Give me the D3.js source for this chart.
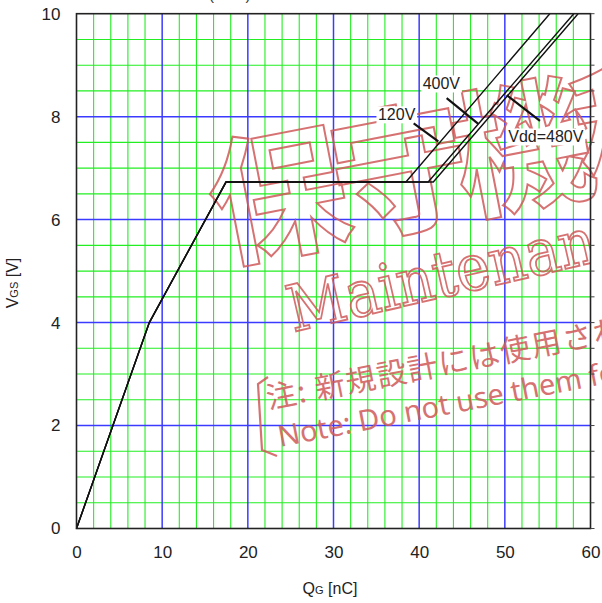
<!DOCTYPE html>
<html>
<head>
<meta charset="utf-8">
<script src="https://cdn.jsdelivr.net/npm/d3@7"></script>
<style>
  html, body { margin: 0; padding: 0; background: #fff; }
  svg { display: block; }
</style>
</head>
<body>
<svg id="chart" width="602" height="603"></svg>
<script>
// ---------------- data ----------------
const xTickValues = [0, 10, 20, 30, 40, 50, 60];
const yTickValues = [0, 2, 4, 6, 8, 10];
const xMinorStep = 2;      // nC
const yMinorStep = 0.5;    // V

// Gate charge curves: [QG (nC), VGS (V)]
const curve120V = [[0, 0], [8.5, 4.0], [17.45, 6.73], [38.45, 6.73], [55.25, 10]];
const curve400V = [[0, 0], [8.5, 4.0], [17.45, 6.73], [41.05, 6.73], [58.05, 10]];
const curve480V = [[0, 0], [8.5, 4.0], [17.45, 6.73], [41.65, 6.73], [58.55, 10]];

// Annotations (data coordinates)
const annLabels = ["120V", "400V", "Vdd=480V"];
const annLabelQ = [35.19, 40.41, 50.40];
const annLabelV = [8.05, 8.65, 7.62];
const annLeaderFrom = [[39.36, 7.87], [43.21, 8.36], [50.22, 8.42]];
const annLeaderTo = [[42.23, 7.52], [46.90, 7.86], [54.10, 7.92]];

const titleText = "(TYP.)";
const stampChars = ["保", "守", "機", "種"];

// ---------------- layout ----------------
const svg = d3.select("#chart");
const pLeft = 76.5, pRight = 590.5, pTop = 13.7, pBottom = 528.5;
const x = d3.scaleLinear().domain([0, 60]).range([pLeft, pRight]);
const y = d3.scaleLinear().domain([0, 10]).range([pBottom, pTop]);

const FONT = "'Liberation Sans', Arial, Helvetica, sans-serif";
const GREEN = "#22ee22", BLUE = "#3b3bff";

// clipped title residue (only the descenders show in the reference)
svg.append("text").attr("x", 209).attr("y", 0)
  .attr("font-family", FONT).attr("font-size", 15).attr("fill", "#333")
  .text(titleText);

// ---------------- grid ----------------
const xMinor = d3.range(0, 60 + 1e-9, xMinorStep).filter(v => v % 10 !== 0);
const yMinor = d3.range(0, 10 + 1e-9, yMinorStep).filter(v => Math.abs(v % 2) > 1e-9);
const g = svg.append("g");
g.selectAll(".vmin").data(xMinor).join("line")
  .attr("x1", d => x(d)).attr("x2", d => x(d)).attr("y1", pTop).attr("y2", pBottom)
  .attr("stroke", GREEN).attr("stroke-width", 1.1);
g.selectAll(".hmin").data(yMinor).join("line")
  .attr("y1", d => y(d)).attr("y2", d => y(d)).attr("x1", pLeft).attr("x2", pRight)
  .attr("stroke", GREEN).attr("stroke-width", 1.1);
g.selectAll(".vmaj").data(xTickValues.filter(v => v > 0 && v < 60)).join("line")
  .attr("x1", d => x(d)).attr("x2", d => x(d)).attr("y1", pTop).attr("y2", pBottom)
  .attr("stroke", BLUE).attr("stroke-width", 1.5);
g.selectAll(".hmaj").data(yTickValues.filter(v => v > 0 && v < 10)).join("line")
  .attr("y1", d => y(d)).attr("y2", d => y(d)).attr("x1", pLeft).attr("x2", pRight)
  .attr("stroke", BLUE).attr("stroke-width", 1.5);

// ---------------- watermark ----------------
const WM = "#d05a5a";
const wm = svg.append("g").attr("opacity", 0.85);
const stamp = wm.append("text")
  .attr("transform", "translate(220,259) rotate(-11)")
  .attr("font-family", "'Noto Sans CJK JP'").attr("font-weight", 700)
  .attr("font-size", 139)
  .attr("fill", "none").attr("stroke", WM).attr("stroke-width", 2);
stamp.selectAll("tspan").data(stampChars).join("tspan")
  .attr("x", (d, i) => i * 124).attr("y", 0).text(d => d);
svg.append("clipPath").attr("id", "plotclip")
  .append("rect").attr("x", 0).attr("y", 0).attr("width", pRight).attr("height", 603);
wm.append("g").attr("clip-path", "url(#plotclip)")
  .append("text")
  .attr("transform", "translate(293,332) rotate(-13) scale(0.9,1)")
  .attr("font-family", "'DejaVu Serif', serif")
  .attr("font-size", 64)
  .attr("fill", "none").attr("stroke", WM).attr("stroke-width", 1.9)
  .text("Maintenance");
wm.append("text")
  .attr("transform", "translate(268.5,409) rotate(-11.1)")
  .attr("font-family", "'Noto Sans CJK JP'").attr("font-size", 30).attr("letter-spacing", 1.5)
  .attr("fill", WM)
  .text("注: 新規設計には使用されないでください");
wm.append("text")
  .attr("transform", "translate(280,447) rotate(-11)")
  .attr("font-family", "'Noto Sans', sans-serif").attr("font-size", 29)
  .attr("fill", WM)
  .text("Note: Do not use them for new design");
wm.append("path")
  .attr("d", "M268,377 L258,384 L262,450 L277,456")
  .attr("fill", "none").attr("stroke", WM).attr("stroke-width", 2.2);

// ---------------- curves ----------------
const line = d3.line().x(d => x(d[0])).y(d => y(d[1]));
[curve120V, curve400V, curve480V].forEach(c => {
  svg.append("path").attr("d", line(c))
    .attr("fill", "none").attr("stroke", "#111").attr("stroke-width", 1.4)
    .attr("stroke-linejoin", "miter");
});

// ---------------- annotations ----------------
annLabels.forEach((lab, i) => {
  const t = svg.append("text")
    .attr("x", x(annLabelQ[i])).attr("y", y(annLabelV[i]))
    .attr("dy", "0.36em")
    .attr("font-family", FONT).attr("font-size", 16).attr("fill", "#222")
    .text(lab);
  const bb = t.node().getBBox();
  svg.insert("rect", () => t.node())
    .attr("x", bb.x - 1.5).attr("y", bb.y + 0.5).attr("width", bb.width + 3).attr("height", bb.height)
    .attr("fill", "#fff");
  svg.append("line")
    .attr("x1", x(annLeaderFrom[i][0])).attr("y1", y(annLeaderFrom[i][1]))
    .attr("x2", x(annLeaderTo[i][0])).attr("y2", y(annLeaderTo[i][1]))
    .attr("stroke", "#111").attr("stroke-width", 2.2);
});

// ---------------- frame and ticks ----------------
svg.append("rect").attr("x", pLeft).attr("y", pTop)
  .attr("width", pRight - pLeft).attr("height", pBottom - pTop)
  .attr("fill", "none").attr("stroke", "#222").attr("stroke-width", 1.6);
svg.selectAll(".rtick").data(d3.range(0, 10 + 1e-9, yMinorStep)).join("line")
  .attr("x1", pRight).attr("x2", pRight + 4).attr("y1", d => y(d)).attr("y2", d => y(d))
  .attr("stroke", "#444").attr("stroke-width", 1);

// tick labels via axes
const xAxis = svg.append("g").attr("transform", `translate(0,${pBottom})`)
  .call(d3.axisBottom(x).tickValues(xTickValues).tickSize(0).tickPadding(17));
const yAxis = svg.append("g").attr("transform", `translate(${pLeft},0)`)
  .call(d3.axisLeft(y).tickValues(yTickValues).tickSize(0).tickPadding(16));
[xAxis, yAxis].forEach(a => {
  a.select(".domain").remove();
  a.selectAll("text").attr("font-family", FONT).attr("font-size", 17).attr("fill", "#222");
});

// axis titles
const xt = svg.append("text").attr("x", 330).attr("y", 594)
  .attr("text-anchor", "middle").attr("font-family", FONT).attr("font-size", 16).attr("fill", "#222");
xt.append("tspan").text("Q");
xt.append("tspan").attr("font-size", 11).text("G");
xt.append("tspan").text(" [nC]");

const yt = svg.append("text").attr("transform", "translate(18,283) rotate(-90)")
  .attr("text-anchor", "middle").attr("font-family", FONT).attr("font-size", 16).attr("fill", "#222");
yt.append("tspan").text("V");
yt.append("tspan").attr("font-size", 11).text("GS");
yt.append("tspan").text(" [V]");
</script>
</body>
</html>
